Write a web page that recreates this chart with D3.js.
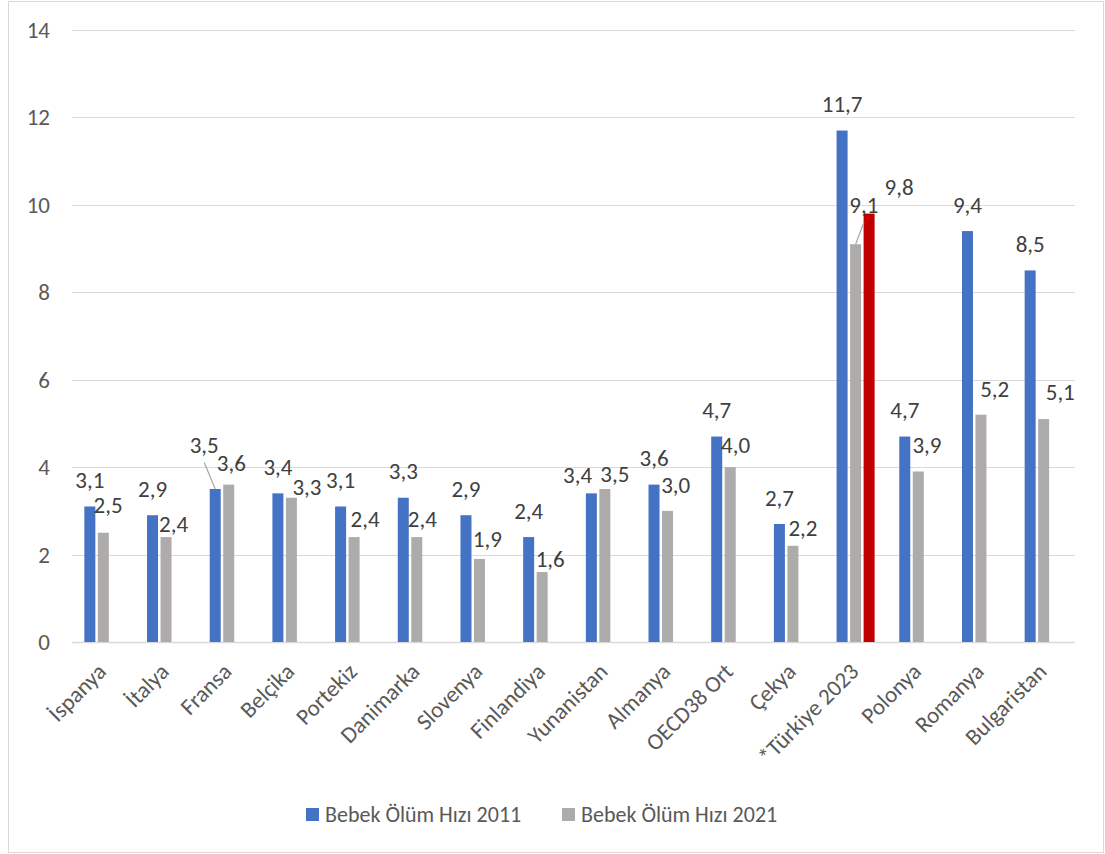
<!DOCTYPE html>
<html>
<head>
<meta charset="utf-8">
<script src="https://cdn.jsdelivr.net/npm/d3@7"></script>
<style>
  body { margin: 0; background: #fff; }
  svg text { font-family: Carlito, Calibri, Lato, sans-serif; fill: #595959; }
</style>
</head>
<body>
<div id="chart"></div>
<script>
// *** data
var categories = ["İspanya", "İtalya", "Fransa", "Belçika", "Portekiz", "Danimarka", "Slovenya", "Finlandiya",
    "Yunanistan", "Almanya", "OECD38 Ort", "Çekya", "*Türkiye 2023", "Polonya", "Romanya", "Bulgaristan"];
var values2011 = [3.1, 2.9, 3.5, 3.4, 3.1, 3.3, 2.9, 2.4, 3.4, 3.6, 4.7, 2.7, 11.7, 4.7, 9.4, 8.5];
var values2021 = [2.5, 2.4, 3.6, 3.3, 2.4, 2.4, 1.9, 1.6, 3.5, 3.0, 4.0, 2.2, 9.1, 3.9, 5.2, 5.1];
var values2023 = [null, null, null, null, null, null, null, null, null, null, null, null, 9.8, null, null, null];
var yTicks = [0, 2, 4, 6, 8, 10, 12, 14];
var legendNames = ["Bebek Ölüm Hızı 2011", "Bebek Ölüm Hızı 2021"];

// *** label nudges (dx from bar centre, gap above bar top, leader line) - layout only
var nudge2011 = categories.map(function() { return [0, 18.3, false]; });
nudge2011[2] = [-11, 36, true];
nudge2011[8] = [-13.8, 10, false];
var nudge2021 = [[4.7, 20], [7.5, 4.8], [2.6, 14], [15.5, 3], [11, 10], [5.5, 10.4], [7.8, 12.3], [8, 5.4],
    [10, 7.3], [8.2, 18.2], [5.4, 14.5], [10, 10], [8.2, 31, true], [8.7, 18.2], [13.7, 18], [16.6, 19]];
var nudge2023 = categories.map(function() { return [30, 18.6, false]; });

var series = [
    {key: "s2011", values: values2011, color: "#4472C4", nudge: nudge2011},
    {key: "s2021", values: values2021, color: "#AEABAB", nudge: nudge2021},
    {key: "s2023", values: values2023, color: "#C00000", nudge: nudge2023}
];

var W = 1105, H = 854;
var plot = {left: 72, right: 1075, top: 30, bottom: 642};

var svg = d3.select("#chart").append("svg")
    .attr("width", W)
    .attr("height", H);

svg.append("rect")
    .attr("x", 8.5).attr("y", 1.5)
    .attr("width", 1095).attr("height", 851)
    .attr("fill", "#fff")
    .attr("stroke", "#d9d9d9");

var x = d3.scaleBand().domain(categories).range([plot.left, plot.right]).padding(0);
var x1 = d3.scaleBand().domain(series.map(function(s) { return s.key; }))
    .range([-19, 19]).paddingInner(2.5 / 13.5).paddingOuter(0);
var y = d3.scaleLinear().domain([0, 14]).range([plot.bottom, plot.top]);

// gridlines
svg.append("g").selectAll("line")
    .data(yTicks)
    .enter().append("line")
    .attr("x1", plot.left).attr("x2", plot.right)
    .attr("y1", function(d) { return Math.round(y(d)) + 0.5; })
    .attr("y2", function(d) { return Math.round(y(d)) + 0.5; })
    .attr("stroke", "#d9d9d9")
    .attr("stroke-width", function(d) { return d === 0 ? 1.5 : 1; });

// y axis labels
svg.append("g").selectAll("text")
    .data(yTicks)
    .enter().append("text")
    .attr("x", 50)
    .attr("y", function(d) { return y(d); })
    .attr("dy", "0.35em")
    .attr("text-anchor", "end")
    .style("font-size", "23px")
    .text(function(d) { return d; });

var fmt = function(v) { return d3.format(".1f")(v).replace(".", ","); };

var rows = [];
series.forEach(function(s) {
    s.values.forEach(function(v, i) {
        if (v == null) return;
        rows.push({cat: categories[i], key: s.key, value: v, color: s.color, nudge: s.nudge[i]});
    });
});

function barCx(d) { return x(d.cat) + x.bandwidth() / 2 + x1(d.key) + x1.bandwidth() / 2; }

// bars
svg.append("g").selectAll("rect")
    .data(rows)
    .enter().append("rect")
    .attr("x", function(d) { return barCx(d) - x1.bandwidth() / 2; })
    .attr("y", function(d) { return y(d.value); })
    .attr("width", x1.bandwidth())
    .attr("height", function(d) { return y(0) - y(d.value); })
    .attr("fill", function(d) { return d.color; });

// leader lines
svg.append("g").selectAll("line")
    .data(rows.filter(function(d) { return d.nudge[2]; }))
    .enter().append("line")
    .attr("x1", function(d) { return barCx(d) + d.nudge[0]; })
    .attr("y1", function(d) { return y(d.value) - d.nudge[1] + 9.5; })
    .attr("x2", function(d) { return barCx(d); })
    .attr("y2", function(d) { return y(d.value); })
    .attr("stroke", "#a6a6a6")
    .attr("stroke-width", 1.2);

// value labels
svg.append("g").selectAll("text")
    .data(rows)
    .enter().append("text")
    .attr("x", function(d) { return barCx(d) + d.nudge[0]; })
    .attr("y", function(d) { return y(d.value) - d.nudge[1]; })
    .attr("text-anchor", "middle")
    .style("font-size", "23px")
    .style("fill", "#404040")
    .text(function(d) { return fmt(d.value); });

// category labels
svg.append("g").selectAll("text")
    .data(categories)
    .enter().append("text")
    .attr("transform", function(d) {
        return "translate(" + (x(d) + x.bandwidth() / 2 + 4.3) + ",673) rotate(-45)";
    })
    .attr("text-anchor", "end")
    .style("font-size", "23px")
    .text(function(d) { return d; });

// legend
var legend = svg.append("g").selectAll("g")
    .data(legendNames)
    .enter().append("g")
    .attr("transform", function(d, i) { return "translate(" + (i === 0 ? 306 : 562) + ",808)"; });
legend.append("rect")
    .attr("width", 13).attr("height", 13)
    .attr("fill", function(d, i) { return series[i].color; });
legend.append("text")
    .attr("x", 19)
    .attr("y", 13.5)
    .style("font-size", "22px")
    .text(function(d) { return d; });
</script>
</body>
</html>
